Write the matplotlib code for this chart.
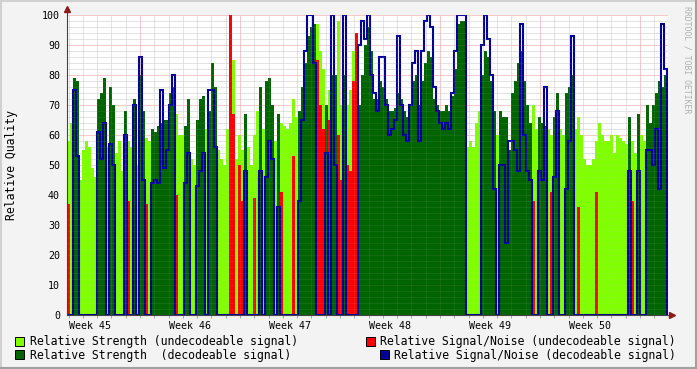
import numpy as np
import matplotlib
matplotlib.use("Agg")
import matplotlib.pyplot as plt
from matplotlib.lines import Line2D
from matplotlib.patches import Rectangle

# one sample every 0.21 days, first sample 1.89 days into week 45
t_start = 1.89
t_step = 0.21

# u = undecodeable signal, d = decodeable signal
status = ("uudduuuuuu" "dddudduuud" "uududduudd" "dddddduuud" "duuddduddd"
          "uuuuuuuuud" "uuuududddu" "duuuuuuddd" "ddduuududd" "uuduuuuddd"
          "dddddddddd" "dddddddddd" "dddddddddd" "ddduuuuudd" "dddudddddd"
          "ddddduuddd" "uudduudddu" "uuuuuuuuuu" "uuuuuuuduu" "duuddddddd")

strength = [58, 64, 79, 78, 45, 55, 58, 56, 49, 46,
            72, 74, 79, 56, 76, 70, 54, 58, 48, 68,
            58, 56, 72, 50, 80, 68, 59, 58, 62, 61,
            63, 64, 65, 65, 74, 76, 67, 60, 60, 63,
            72, 52, 50, 65, 72, 73, 62, 68, 84, 76,
            55, 52, 50, 62, 89, 85, 52, 60, 55, 67,
            56, 50, 60, 68, 76, 62, 78, 79, 70, 58,
            67, 64, 63, 62, 64, 72, 66, 68, 76, 84,
            93, 96, 97, 97, 88, 82, 70, 75, 80, 80,
            98, 70, 80, 70, 75, 88, 90, 70, 80, 90,
            96, 88, 72, 72, 78, 76, 72, 68, 68, 69,
            74, 72, 68, 66, 70, 78, 80, 70, 78, 84,
            88, 86, 72, 70, 68, 68, 70, 68, 73, 82,
            97, 98, 98, 56, 58, 56, 64, 68, 80, 88,
            86, 78, 68, 60, 68, 66, 66, 55, 74, 78,
            84, 88, 78, 70, 64, 70, 62, 66, 64, 63,
            62, 60, 66, 74, 62, 60, 74, 76, 80, 62,
            66, 60, 52, 50, 50, 52, 58, 64, 60, 58,
            58, 60, 54, 60, 59, 58, 57, 66, 58, 54,
            67, 60, 58, 70, 64, 70, 74, 78, 76, 80]

signal_noise = [37, 0, 75, 53, 0, 0, 0, 0, 0, 0,
                61, 52, 64, 0, 57, 50, 0, 0, 0, 60,
                38, 0, 70, 0, 86, 45, 37, 0, 44, 45,
                44, 75, 49, 55, 70, 80, 40, 0, 0, 44,
                54, 0, 0, 43, 48, 54, 0, 75, 75, 56,
                0, 0, 0, 0, 100, 67, 0, 50, 38, 48,
                0, 0, 39, 0, 48, 0, 46, 58, 52, 0,
                36, 41, 0, 0, 0, 53, 0, 38, 65, 88,
                100, 100, 84, 85, 70, 62, 54, 65, 100, 50,
                60, 45, 100, 50, 48, 78, 94, 90, 98, 92,
                100, 80, 74, 68, 86, 86, 70, 60, 62, 65,
                93, 70, 60, 58, 70, 84, 88, 58, 88, 98,
                100, 96, 76, 68, 64, 62, 64, 62, 74, 88,
                100, 100, 100, 0, 0, 0, 0, 0, 90, 100,
                92, 80, 42, 0, 50, 50, 24, 58, 58, 55,
                48, 97, 60, 48, 45, 38, 0, 48, 45, 76,
                0, 41, 46, 68, 0, 0, 42, 58, 93, 0,
                36, 0, 0, 0, 0, 0, 41, 0, 0, 0,
                0, 0, 0, 0, 0, 0, 0, 48, 38, 0,
                48, 0, 0, 55, 55, 50, 62, 42, 97, 82]

week_numbers = [45, 46, 47, 48, 49, 50]

legend_labels = ["Relative Strength (undecodeable signal)",
                 "Relative Strength  (decodeable signal)",
                 "Relative Signal/Noise (undecodeable signal)",
                 "Relative Signal/Noise (decodeable signal)"]

LIGHT = "#7fff00"
DARK = "#006400"
RED = "#ff0000"
BLUE = "#000099"
MONO = "DejaVu Sans Mono"

W, H = 697, 369


def fx(x):
    return x / W


def fy(y):
    return 1 - y / H


fig = plt.figure(figsize=(W / 100, H / 100), dpi=100, facecolor="#f3f3f3")
ax = fig.add_axes([fx(67), fy(315), 601 / W, 300 / H])
ax.set_facecolor("white")

kind = np.array(list(status))
s = np.array(strength, dtype=float)
n = np.array(signal_noise, dtype=float)
edges = t_start + t_step * np.arange(len(s) + 1)
undec = kind == "u"
dec = kind == "d"

ax.stairs(np.where(undec, s, 0), edges, fill=True, color=LIGHT, lw=0, zorder=2)
ax.stairs(np.where(dec, s, 0), edges, fill=True, color=DARK, lw=0, zorder=2.1)
ax.stairs(np.where(undec, n, 0), edges, fill=True, color=RED, lw=0, zorder=2.2)
ax.stairs(np.where(dec, n, 0), edges, color=BLUE, lw=1.5, baseline=0, zorder=2.3)

# grid: clear under the data, faint on top of it
dots = (0, (1, 1))
for z, a in [(1, 1.0), (3, 0.18)]:
    for v in range(2, 101, 2):
        major = v % 10 == 0
        ax.axhline(v, color="#f0a0a0" if major else "#cfcfcf", lw=0.72,
                   ls=dots, alpha=a, zorder=z)
    for d in range(1, 45):
        major = d % 7 == 0
        ax.axvline(d, color="#f0a0a0" if major else "#cfcfcf", lw=0.72,
                   ls=dots, alpha=a, zorder=z)

ax.set_xlim(t_start, t_start + 601 / (100 / 7))
ax.set_ylim(0, 100)

ax.set_yticks(range(0, 101, 10))
ax.set_yticklabels([str(v) for v in range(0, 101, 10)], family=MONO, fontsize=7.2)
ax.set_xticks([7 * k + 3.5 for k in range(len(week_numbers))])
ax.set_xticklabels([f"Week {w}" for w in week_numbers], family=MONO, fontsize=7.2)
ax.set_xticks(range(2, 44), minor=True)
ax.tick_params(axis="y", length=0, pad=5)
ax.tick_params(axis="x", which="major", length=0, pad=4)
ax.tick_params(axis="x", which="minor", length=2, color="#999999")
for sp in ax.spines.values():
    sp.set_visible(False)

# axes lines with arrows
fig.add_artist(Line2D([fx(67), fx(67)], [fy(315), fy(9)], color="#444444", lw=0.8))
fig.add_artist(Line2D([fx(67), fx(672)], [fy(315), fy(315)], color="#444444", lw=0.8))
fig.add_artist(Line2D([fx(67)], [fy(9)], marker="^", ms=4, color="#8b1a1a", lw=0))
fig.add_artist(Line2D([fx(672)], [fy(315)], marker=">", ms=4, color="#8b1a1a", lw=0))

fig.text(fx(12), fy(165), "Relative Quality", rotation=90, ha="center", va="center",
         family=MONO, fontsize=8.3)
fig.text(fx(687), fy(60), "RRDTOOL / TOBI OETIKER", rotation=270, ha="center",
         va="center", family=MONO, fontsize=5.9, color="#b0b0b0")

# legend
legend_pos = [(15, 337, 30, 341), (15, 350, 30, 355), (366, 337, 380, 341), (380, 350, 394, 355)]
for (bx, by, tx, ty), label, col in zip(legend_pos, legend_labels, [LIGHT, DARK, RED, BLUE]):
    fig.add_artist(Rectangle((fx(bx), fy(by + 9)), 9 / W, 9 / H, transform=fig.transFigure,
                             facecolor=col, edgecolor="black", lw=0.7))
    fig.text(fx(tx), fy(ty), label, ha="left", va="center", family=MONO, fontsize=8.3)

# frame shading
fig.add_artist(Line2D([0, 1], [fy(0.5), fy(0.5)], color="#d0d0d0", lw=1.5))
fig.add_artist(Line2D([fx(0.5), fx(0.5)], [0, 1], color="#d0d0d0", lw=1.5))
fig.add_artist(Line2D([fx(696), fx(696)], [0, 1], color="#a0a0a0", lw=1.5))
fig.add_artist(Line2D([0, 1], [fy(368), fy(368)], color="#a0a0a0", lw=1.5))

fig.savefig("out.png", dpi=100, facecolor=fig.get_facecolor())
